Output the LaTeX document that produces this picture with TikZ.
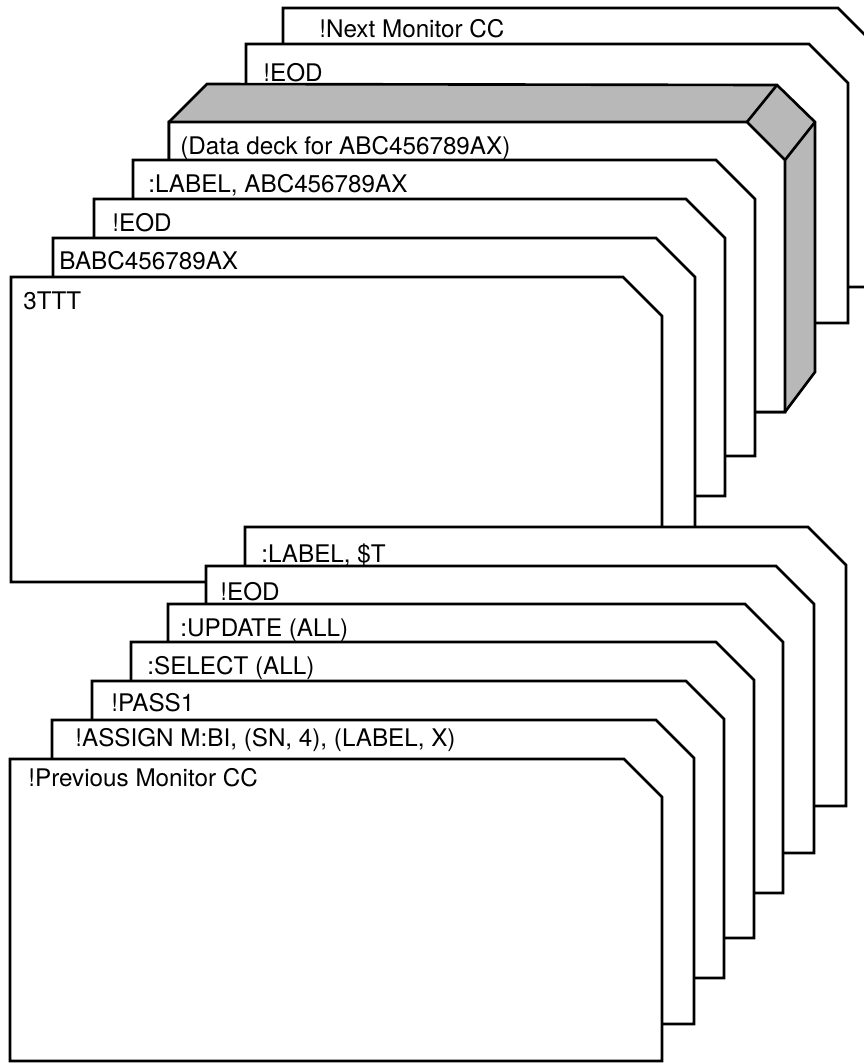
\documentclass[tikz,border=0pt]{standalone}
\usepackage{fontspec}
\setmainfont{TeX Gyre Heros}

\begin{document}
\begin{tikzpicture}[
  x=0.02cm, y=-0.02cm,
  card/.style     = {draw, fill=white, line width=1.5pt, line join=miter},
  cardedge/.style = {line width=1.5pt},
  cardtext/.style = {anchor=base west, inner sep=0pt,
                     font=\fontsize{13.8}{16}\selectfont},
]
\useasboundingbox (0,0) rectangle (864,1063);

% ── Upper deck, back cards ────────────────────────────────────────────────
\foreach \n/\xl/\yt/\xr/\yb/\tx/\ty/\txt in {
  nextcc/283/8/877/287/319/28/{!Next Monitor CC},
  eodb/246/44/848/323/263/72/{!EOD}} {
  \draw[card] (\xl,\yb) -- (\xl,\yt) -- ({\xr-39},\yt) -- (\xr,{\yt+39})
    -- (\xr,\yb) -- cycle;
  \node[cardtext] (\n) at (\tx,{\ty+9}) {\txt};
}

% ── Data deck: thick card with shaded top and side ───────────────────────
\draw[card, fill=black!28] (169,122) -- (207,84) -- (777,85) -- (815,122)
  -- (815,372) -- (785,412) -- (169,412) -- cycle;
\draw[card] (169,412) -- (169,122) -- (747,122) -- (785,160) -- (785,412) -- cycle;
\draw[cardedge] (747,122) -- (777,85);
\draw[cardedge] (785,160) -- (815,122);
\node[cardtext] (data) at (180,{145+9}) {(Data deck for ABC456789AX)};

% ── Upper deck, front cards ───────────────────────────────────────────────
\foreach \n/\xl/\yt/\xr/\yb/\tx/\ty/\txt in {
  labelabc/133/160/755/456/148/183/{:LABEL, ABC456789AX},
  eodu/94/199/725/496/112/222/{!EOD},
  babc/53/238/695/540/59/260/{BABC456789AX},
  ttt/11/277/662/582/23/300/{3TTT}} {
  \draw[card] (\xl,\yb) -- (\xl,\yt) -- ({\xr-39},\yt) -- (\xr,{\yt+39})
    -- (\xr,\yb) -- cycle;
  \node[cardtext] (\n) at (\tx,{\ty+9}) {\txt};
}

% ── Lower deck ────────────────────────────────────────────────────────────
\foreach \n/\xl/\yt/\xr/\yb/\tx/\ty/\txt in {
  labelt/245/527/846/806/261/553/{:LABEL, \$T},
  eodl/206/566/814/853/220/591/{!EOD},
  update/168/604/783/893/180/627/{:UPDATE (ALL)},
  select/131/642/754/938/147/665/{:SELECT (ALL)},
  pass/92/681/724/978/111/702/{!PASS1},
  assign/52/720/694/1024/75/737/{!ASSIGN M:BI, (SN, 4), (LABEL, X)},
  prevcc/10/759/662/1061/28/777/{!Previous Monitor CC}} {
  \draw[card] (\xl,\yb) -- (\xl,\yt) -- ({\xr-38},\yt) -- (\xr,{\yt+38})
    -- (\xr,\yb) -- cycle;
  \node[cardtext] (\n) at (\tx,{\ty+9}) {\txt};
}

\end{tikzpicture}
\end{document}
